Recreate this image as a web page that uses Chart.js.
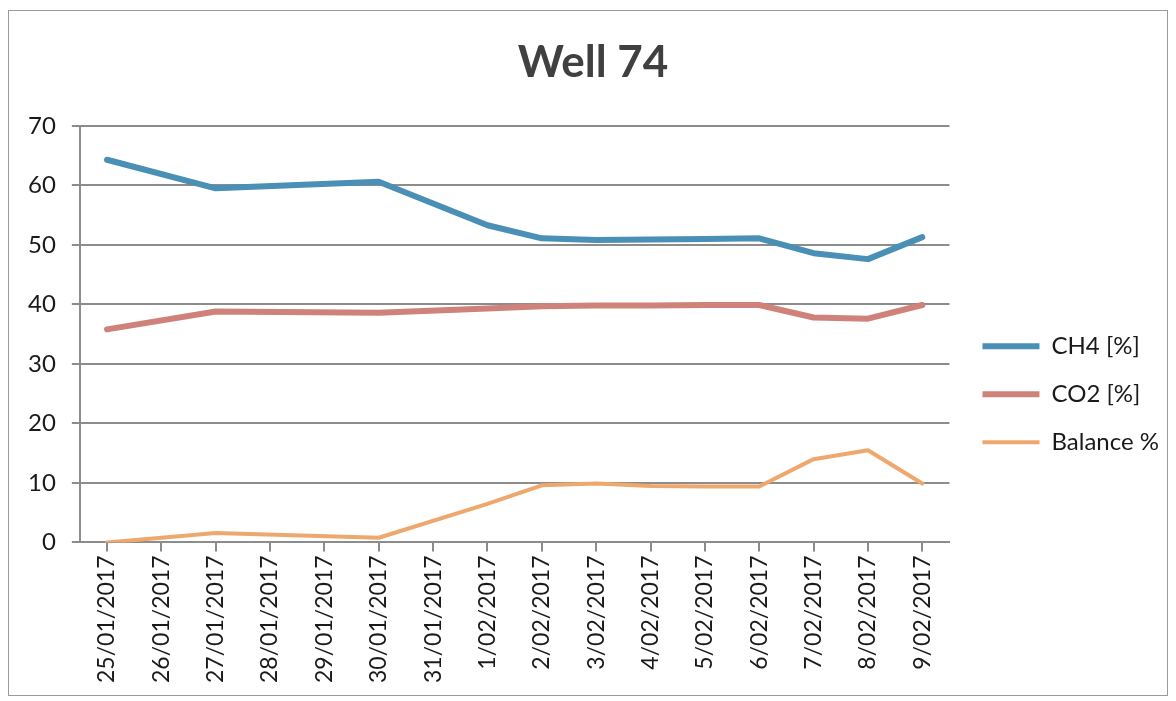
<!DOCTYPE html>
<html>
<head>
<meta charset="utf-8">
<script src="https://cdn.jsdelivr.net/npm/chart.js@4/dist/chart.umd.min.js"></script>
<style>
  html, body { margin: 0; padding: 0; background: #fff; }
  #wrap { position: relative; width: 1176px; height: 701px; }
  #frame { position: absolute; left: 8px; top: 10px; width: 1158px; height: 684px;
           border: 1px solid #9a9a9a; pointer-events: none; }
</style>
</head>
<body>
<div id="wrap">
  <canvas id="chart"></canvas>
  <div id="frame"></div>
</div>
<script>
'use strict';

var dates = ['25/01/2017', '26/01/2017', '27/01/2017', '28/01/2017', '29/01/2017',
             '30/01/2017', '31/01/2017', '1/02/2017', '2/02/2017', '3/02/2017',
             '4/02/2017', '5/02/2017', '6/02/2017', '7/02/2017', '8/02/2017', '9/02/2017'];

// no readings on 26, 28, 29 and 31 Jan - the line just spans those days
var ch4 = [64.3, null, 59.5, null, null, 60.6, null, 53.3, 51.1, 50.8, 50.9, 51.0, 51.1, 48.6, 47.6, 51.3];
var co2 = [35.8, null, 38.8, null, null, 38.6, null, 39.3, 39.7, 39.8, 39.8, 39.9, 39.9, 37.8, 37.6, 39.9];
var balance = [0.0, null, 1.6, null, null, 0.8, null, 6.5, 9.6, 9.9, 9.5, 9.4, 9.4, 14.0, 15.5, 9.9];

var yTicks = [0, 10, 20, 30, 40, 50, 60, 70];

Chart.defaults.font.family = 'Lato, "Open Sans", sans-serif';
Chart.defaults.color = '#1a1a1a';

var gridGray = '#8c8c8c';

// leave a small gap between the plot and the legend
var legendGapPlugin = {
    id: 'legendGap',
    beforeInit: function(chart) {
        var fit = chart.legend.fit;
        chart.legend.fit = function() {
            fit.call(this);
            this.width += 14;
        };
    },
    afterLayout: function(chart) {
        chart.legend.left += 9;
    }
};

new Chart(document.getElementById('chart'), {
    type: 'line',
    data: {
        labels: dates,
        datasets: [{
            label: 'CH4 [%]',
            data: ch4,
            borderColor: 'rgb(74, 143, 182)',
            backgroundColor: 'rgb(74, 143, 182)',
            borderWidth: 6
        }, {
            label: 'CO2 [%]',
            data: co2,
            borderColor: 'rgb(207, 130, 122)',
            backgroundColor: 'rgb(207, 130, 122)',
            borderWidth: 6
        }, {
            label: 'Balance %',
            data: balance,
            borderColor: 'rgb(238, 168, 110)',
            backgroundColor: 'rgb(238, 168, 110)',
            borderWidth: 4
        }]
    },
    plugins: [legendGapPlugin],
    options: {
        responsive: true,
        maintainAspectRatio: false,
        animation: false,
        spanGaps: true,
        elements: {
            point: { radius: 0, hoverRadius: 0 },
            line: { tension: 0, borderCapStyle: 'round', borderJoinStyle: 'round' }
        },
        layout: {
            padding: { left: 12, right: 2, top: 0, bottom: 14 }
        },
        scales: {
            x: {
                offset: true,
                grid: {
                    drawOnChartArea: false,
                    color: gridGray,
                    lineWidth: 2,
                    tickLength: 9
                },
                border: { color: gridGray, width: 2 },
                ticks: {
                    minRotation: 90,
                    maxRotation: 90,
                    autoSkip: false,
                    padding: 4,
                    font: { size: 23 }
                }
            },
            y: {
                min: 0,
                max: 70,
                afterBuildTicks: function(scale) {
                    scale.ticks = yTicks.map(function(v) { return { value: v }; });
                },
                grid: {
                    color: gridGray,
                    lineWidth: 2,
                    tickLength: 8
                },
                border: { color: gridGray, width: 2 },
                ticks: {
                    padding: 16,
                    font: { size: 24 }
                }
            }
        },
        plugins: {
            title: {
                display: true,
                text: 'Well 74',
                color: '#404040',
                font: { size: 44, weight: 'bold' },
                padding: { top: 36, bottom: 37 }
            },
            legend: {
                position: 'right',
                title: {
                    display: true,
                    text: '',
                    padding: { top: 87, bottom: 0 }
                },
                labels: {
                    usePointStyle: true,
                    pointStyle: 'line',
                    pointStyleWidth: 57,
                    padding: 24,
                    color: '#1a1a1a',
                    font: { size: 24 }
                }
            },
            tooltip: { enabled: false }
        }
    }
});
</script>
</body>
</html>
